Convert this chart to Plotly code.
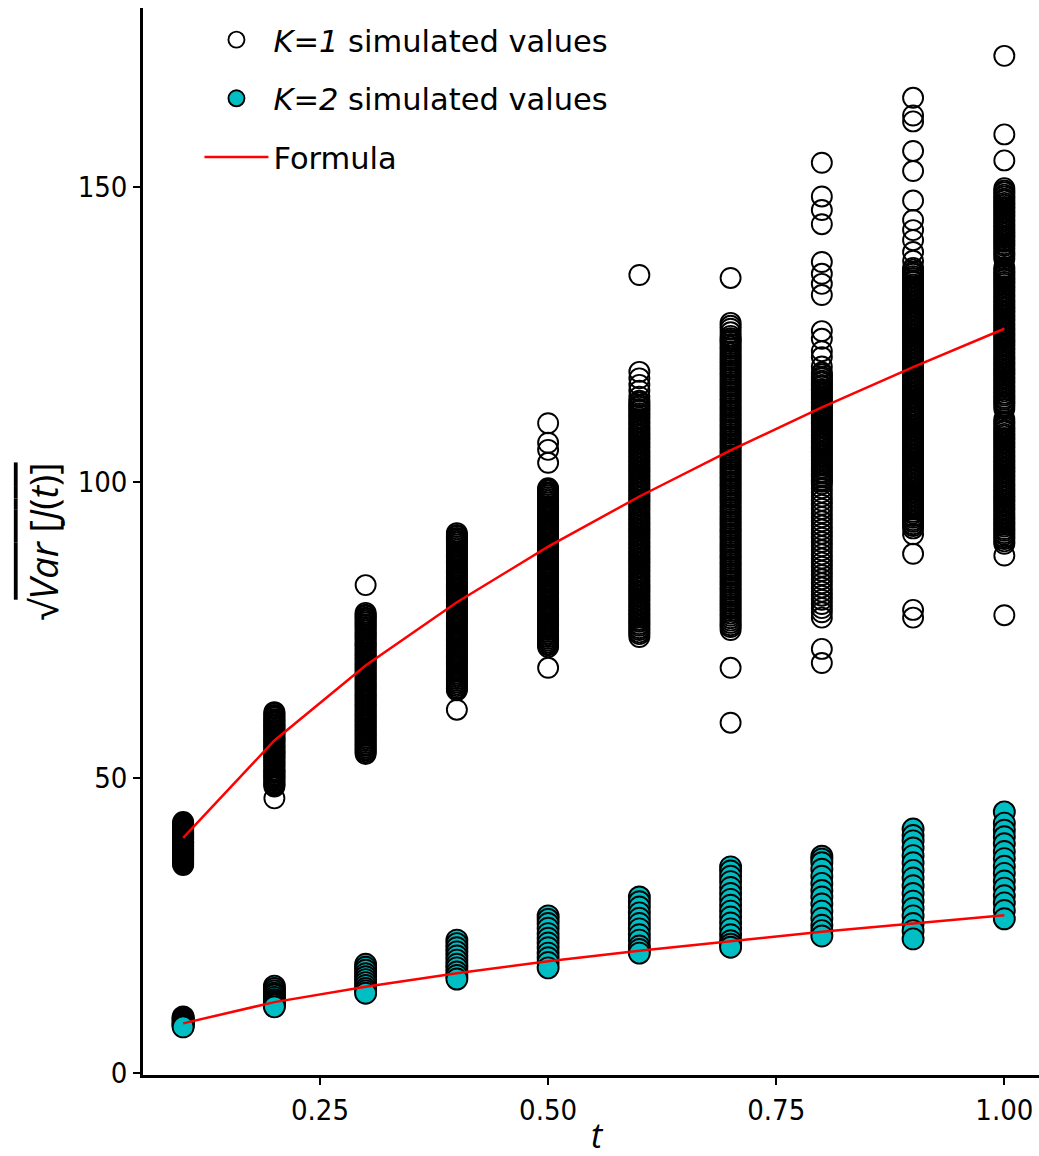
import plotly.graph_objects as go

t_values = [0.1, 0.2, 0.3, 0.4, 0.5, 0.6, 0.7, 0.8, 0.9, 1.0]

k1_sim = {
    0.1: [42.5, 42.1, 41.8, 41.5, 41.2, 40.9, 40.6, 40.4, 40.1, 39.9, 39.6, 39.4, 39.1, 38.9, 38.7, 38.4,
          38.2, 37.9, 37.7, 37.4, 37.1, 36.9, 36.6, 36.3, 36.0, 35.7, 35.4, 35.2],
    0.2: [61.1, 60.6, 60.2, 59.7, 59.3, 58.8, 58.4, 57.9, 57.5, 57.1, 56.6, 56.2, 55.8, 55.3, 54.9, 54.4,
          54.0, 53.5, 53.1, 52.6, 52.2, 51.7, 51.2, 50.8, 50.3, 49.9, 49.4, 48.9, 48.5, 46.5],
    0.3: [82.6, 77.9, 77.4, 76.9, 76.3, 75.8, 75.2, 74.6, 74.1, 73.5, 72.9, 72.4, 71.8, 71.2, 70.7, 70.1,
          69.5, 69.0, 68.4, 67.8, 67.3, 66.7, 66.1, 65.6, 65.0, 64.4, 63.9, 63.3, 62.7, 62.2, 61.6, 61.0,
          60.5, 59.9, 59.3, 58.8, 58.2, 57.6, 57.1, 56.5, 55.9, 55.4, 54.8, 54.3, 54.0],
    0.4: [91.4, 90.9, 90.4, 89.8, 89.2, 88.6, 88.0, 87.4, 86.8, 86.2, 85.6, 85.0, 84.4, 83.8, 83.2, 82.6,
          82.0, 81.4, 80.8, 80.2, 79.6, 79.0, 78.4, 77.8, 77.2, 76.6, 76.0, 75.4, 74.8, 74.2, 73.6, 73.0,
          72.4, 71.8, 71.2, 70.6, 70.0, 69.4, 68.8, 68.2, 67.6, 67.0, 66.4, 65.8, 65.2, 64.8, 61.5],
    0.5: [110.0, 106.7, 105.5, 103.3, 99.0, 98.6, 98.1, 97.5, 96.9, 96.3, 95.7, 95.1, 94.5, 93.9, 93.3,
          92.7, 92.1, 91.5, 90.9, 90.3, 89.7, 89.1, 88.5, 87.9, 87.3, 86.7, 86.1, 85.5, 84.9, 84.3, 83.7,
          83.1, 82.5, 81.9, 81.3, 80.7, 80.1, 79.5, 78.9, 78.3, 77.7, 77.1, 76.5, 75.9, 75.3, 74.7, 74.1,
          73.5, 72.9, 72.4, 72.1, 68.6],
    0.6: [135.1, 118.7, 117.6, 116.5, 115.5, 114.5, 113.8, 113.1, 112.4, 111.7, 111.0, 110.3, 109.6, 108.9,
          108.2, 107.5, 106.8, 106.1, 105.4, 104.7, 104.0, 103.3, 102.6, 101.9, 101.2, 100.5, 99.8, 99.1,
          98.4, 97.7, 97.0, 96.3, 95.6, 94.9, 94.2, 93.5, 92.8, 92.1, 91.4, 90.7, 90.0, 89.3, 88.6, 87.9,
          87.2, 86.5, 85.8, 85.1, 84.4, 83.7, 83.0, 82.3, 81.6, 80.9, 80.2, 79.5, 78.8, 78.1, 77.4, 76.7,
          76.0, 75.3, 74.6, 73.8],
    0.7: [134.6, 127.0, 126.5, 126.0, 125.4, 124.8, 124.1, 123.4, 122.6, 121.8, 121.0, 120.2, 119.4, 118.6,
          117.8, 117.0, 116.2, 115.4, 114.6, 113.8, 113.0, 112.2, 111.4, 110.6, 109.8, 109.0, 108.2, 107.4,
          106.6, 105.8, 105.0, 104.2, 103.4, 102.6, 101.8, 101.0, 100.2, 99.4, 98.6, 97.8, 97.0, 96.2, 95.4,
          94.6, 93.8, 93.0, 92.2, 91.4, 90.6, 89.8, 89.0, 88.2, 87.4, 86.6, 85.8, 85.0, 84.2, 83.4, 82.6,
          81.8, 81.0, 80.2, 79.4, 78.6, 77.8, 77.0, 76.2, 75.5, 75.0, 68.6, 59.3],
    0.8: [154.1, 148.4, 146.1, 143.7, 137.3, 135.3, 133.6, 131.7, 125.6, 124.3, 122.2, 121.2, 119.6, 118.6,
          117.9, 117.2, 116.5, 115.8, 115.1, 114.4, 113.7, 113.0, 112.3, 111.6, 110.9, 110.2, 109.5, 108.8,
          108.1, 107.4, 106.7, 106.0, 105.3, 104.6, 103.9, 103.2, 102.5, 101.8, 101.1, 100.4, 99.7, 99.0,
          98.3, 97.6, 96.9, 96.2, 95.5, 94.8, 94.1, 93.4, 92.7, 92.0, 91.3, 90.6, 89.9, 89.2, 88.5, 87.8,
          87.1, 86.4, 85.7, 85.0, 84.3, 83.6, 82.9, 82.2, 81.5, 80.8, 80.1, 79.4, 78.7, 78.0, 77.1, 71.8, 69.4],
    0.9: [165.1, 162.1, 161.1, 156.1, 152.7, 147.7, 144.4, 142.7, 141.0, 139.0, 137.5, 136.3, 135.6, 134.9,
          134.2, 133.5, 132.8, 132.1, 131.4, 130.7, 130.0, 129.3, 128.6, 127.9, 127.2, 126.5, 125.8, 125.1,
          124.4, 123.7, 123.0, 122.3, 121.6, 120.9, 120.2, 119.5, 118.8, 118.1, 117.4, 116.7, 116.0, 115.3,
          114.6, 113.9, 113.2, 112.5, 111.8, 111.1, 110.4, 109.7, 109.0, 108.3, 107.6, 106.9, 106.2, 105.5,
          104.8, 104.1, 103.4, 102.7, 102.0, 101.3, 100.6, 99.9, 99.2, 98.5, 97.8, 97.1, 96.4, 95.7, 95.0,
          94.3, 93.6, 92.9, 92.2, 91.2, 87.9, 78.4, 77.1],
    1.0: [172.2, 158.9, 154.5, 149.8, 149.1, 148.4, 147.7, 147.0, 146.3, 145.6, 144.9, 144.2, 143.5, 142.8,
          142.1, 141.4, 140.7, 140.0, 139.3, 138.6, 137.8, 136.4, 135.7, 135.0, 134.3, 133.6, 132.9, 132.2,
          131.5, 130.8, 130.1, 129.4, 128.7, 128.0, 127.3, 126.6, 125.9, 125.2, 124.5, 123.8, 123.1, 122.4,
          121.7, 121.0, 120.3, 119.6, 118.9, 118.2, 117.5, 116.8, 116.1, 115.4, 114.7, 114.0, 113.3, 112.4,
          110.7, 110.0, 109.3, 108.6, 107.9, 107.2, 106.5, 105.8, 105.1, 104.4, 103.7, 103.0, 102.3, 101.6,
          100.9, 100.2, 99.5, 98.8, 98.1, 97.4, 96.7, 96.0, 95.3, 94.6, 93.9, 93.2, 92.5, 91.8, 91.1, 90.4,
          89.6, 87.6, 77.5],
}

# further simulated values read from the densely overplotted parts of each column
k1_sim_dense = {
    0.1: [42.3, 41.9, 41.6, 41.3, 41.0, 40.7, 40.5, 40.2, 40.0, 39.7, 39.5, 39.2, 39.0, 38.8, 38.5, 38.3,
          38.0, 37.8, 37.5, 37.2, 37.0, 36.7, 36.4, 36.1, 35.8, 35.5],
    0.2: [60.9, 60.4, 59.9, 59.5, 59.0, 58.6, 58.1, 57.7, 57.3, 56.8, 56.4, 56.0, 55.5, 55.1, 54.6, 54.2,
          53.7, 53.3, 52.8, 52.4, 51.9, 51.4, 51.0, 50.5, 50.1, 49.6, 49.1, 48.7],
    0.3: [77.6, 77.1, 76.6, 76.0, 75.5, 74.9, 74.3, 73.8, 73.2, 72.6, 72.1, 71.5, 70.9, 70.4, 69.8, 69.2,
          68.7, 68.1, 67.5, 67.0, 66.4, 65.8, 65.3, 64.7, 64.1, 63.6, 63.0, 62.4, 61.9, 61.3, 60.7, 60.2,
          59.6, 59.0, 58.5, 57.9, 57.3, 56.8, 56.2, 55.6, 55.1, 54.6],
    0.4: [91.1, 90.6, 90.1, 89.5, 88.9, 88.3, 87.7, 87.1, 86.5, 85.9, 85.3, 84.7, 84.1, 83.5, 82.9, 82.3,
          81.7, 81.1, 80.5, 79.9, 79.3, 78.7, 78.1, 77.5, 76.9, 76.3, 75.7, 75.1, 74.5, 73.9, 73.3, 72.7,
          72.1, 71.5, 70.9, 70.3, 69.7, 69.1, 68.5, 67.9, 67.3, 66.7, 66.1, 65.5, 65.0],
    0.5: [98.8, 98.3, 97.8, 97.2, 96.6, 96.0, 95.4, 94.8, 94.2, 93.6, 93.0, 92.4, 91.8, 91.2, 90.6, 90.0,
          89.4, 88.8, 88.2, 87.6, 87.0, 86.4, 85.8, 85.2, 84.6, 84.0, 83.4, 82.8, 82.2, 81.6, 81.0, 80.4,
          79.8, 79.2, 78.6, 78.0, 77.4, 76.8, 76.2, 75.6, 75.0, 74.4, 73.8, 73.2, 72.6],
    0.6: [113.5, 112.8, 112.1, 111.4, 110.7, 110.0, 109.3, 108.6, 107.9, 107.2, 106.5, 105.8, 105.1, 104.4,
          103.7, 103.0, 102.3, 101.6, 100.9, 100.2, 99.5, 98.8, 98.1, 97.4, 96.7, 96.0, 95.3, 94.6, 93.9,
          93.2, 92.5, 91.8, 91.1, 90.4, 89.7, 89.0, 88.3, 87.6, 86.9, 86.2, 85.5, 84.8, 84.1, 83.4, 82.7,
          82.0, 81.3, 80.6, 79.9, 79.2, 78.5, 77.8, 77.1, 76.4, 75.7, 75.0, 74.3],
    0.7: [124.4, 123.8, 123.0, 122.2, 121.4, 120.6, 119.8, 119.0, 118.2, 117.4, 116.6, 115.8, 115.0, 114.2,
          113.4, 112.6, 111.8, 111.0, 110.2, 109.4, 108.6, 107.8, 107.0, 106.2, 105.4, 104.6, 103.8, 103.0,
          102.2, 101.4, 100.6, 99.8, 99.0, 98.2, 97.4, 96.6, 95.8, 95.0, 94.2, 93.4, 92.6, 91.8, 91.0, 90.2,
          89.4, 88.6, 87.8, 87.0, 86.2, 85.4, 84.6, 83.8, 83.0, 82.2, 81.4, 80.6, 79.8, 79.0, 78.2, 77.4,
          76.6, 75.8],
    0.8: [118.3, 117.6, 116.9, 116.2, 115.5, 114.8, 114.1, 113.4, 112.7, 112.0, 111.3, 110.6, 109.9, 109.2,
          108.5, 107.8, 107.1, 106.4, 105.7, 105.0, 104.3, 103.6, 102.9, 102.2, 101.5, 100.8, 100.1],
    0.9: [136.0, 135.3, 134.6, 133.9, 133.2, 132.5, 131.8, 131.1, 130.4, 129.7, 129.0, 128.3, 127.6, 126.9,
          126.2, 125.5, 124.8, 124.1, 123.4, 122.7, 122.0, 121.3, 120.6, 119.9, 119.2, 118.5, 117.8, 117.1,
          116.4, 115.7, 115.0, 114.3, 113.6, 112.9, 112.2, 111.5, 110.8, 110.1, 109.4, 108.7, 108.0, 107.3,
          106.6, 105.9, 105.2, 104.5, 103.8, 103.1, 102.4, 101.7, 101.0, 100.3, 99.6, 98.9, 98.2, 97.5,
          96.8, 96.1, 95.4, 94.7, 94.0, 93.3, 92.6],
    1.0: [149.4, 148.7, 148.0, 147.3, 146.6, 145.9, 145.2, 144.5, 143.8, 143.1, 142.4, 141.7, 141.0, 140.3,
          139.6, 138.9, 138.2, 136.0, 135.3, 134.6, 133.9, 133.2, 132.5, 131.8, 131.1, 130.4, 129.7, 129.0,
          128.3, 127.6, 126.9, 126.2, 125.5, 124.8, 124.1, 123.4, 122.7, 122.0, 121.3, 120.6, 119.9, 119.2,
          118.5, 117.8, 117.1, 116.4, 115.7, 115.0, 114.3, 113.6, 112.9, 110.3, 109.6, 108.9, 108.2, 107.5,
          106.8, 106.1, 105.4, 104.7, 104.0, 103.3, 102.6, 101.9, 101.2, 100.5, 99.8, 99.1, 98.4, 97.7,
          97.0, 96.3, 95.6, 94.9, 94.2, 93.5, 92.8, 92.1, 91.4, 90.7, 90.0],
}

k2_sim = {
    0.1: [9.5, 9.3, 9.1, 8.9, 8.7, 8.5, 8.4, 8.2, 8.0, 7.8],
    0.2: [14.7, 14.3, 13.9, 13.5, 13.2, 12.8, 12.4, 12.1, 11.8, 11.5, 11.2],
    0.3: [18.4, 17.9, 17.4, 16.8, 16.3, 15.8, 15.3, 14.8, 14.3, 13.9, 13.5],
    0.4: [22.5, 21.9, 21.2, 20.5, 19.8, 19.1, 18.4, 17.8, 17.1, 16.5, 15.9],
    0.5: [26.6, 26.0, 25.3, 24.5, 23.6, 22.8, 22.0, 21.2, 20.3, 19.5, 18.7, 17.8],
    0.6: [29.8, 29.0, 28.1, 27.1, 26.2, 25.3, 24.4, 23.4, 22.5, 21.5, 20.9, 20.3],
    0.7: [34.9, 34.2, 33.3, 32.4, 31.4, 30.4, 29.4, 28.4, 27.4, 26.4, 25.4, 24.4, 23.4, 22.4, 21.8, 21.3],
    0.8: [36.7, 36.2, 35.6, 34.5, 33.3, 32.1, 30.9, 29.8, 28.6, 27.4, 26.2, 25.0, 24.1, 23.2],
    0.9: [41.3, 40.2, 39.3, 38.1, 36.8, 35.6, 34.3, 33.0, 31.7, 30.4, 29.1, 27.9, 26.6, 25.3, 24.1, 22.7],
    1.0: [44.2, 42.3, 41.1, 40.0, 38.8, 37.5, 36.3, 35.0, 33.8, 32.5, 31.3, 30.0, 28.8, 27.5, 26.1],
}

formula_k1 = [39.8, 56.3, 69.0, 79.7, 89.1, 97.6, 105.4, 112.7, 119.5, 126.0]
formula_k2 = [8.4, 12.0, 14.6, 16.9, 18.9, 20.7, 22.3, 23.9, 25.3, 26.7]

x_ticks = [0.25, 0.50, 0.75, 1.00]
x_tick_labels = ["0.25", "0.50", "0.75", "1.00"]
y_ticks = [0, 50, 100, 150]
y_tick_labels = ["0", "50", "100", "150"]


def flatten(*sims):
    xs, ys = [], []
    for t in t_values:
        for sim in sims:
            for v in sim.get(t, []):
                xs.append(t)
                ys.append(v)
    return xs, ys


x1, y1 = flatten(k1_sim, k1_sim_dense)
x2, y2 = flatten(k2_sim)

LEGEND_FONT = "DejaVu Sans, Open Sans, sans-serif"
TICK_FONT = "Liberation Sans Narrow, DejaVu Sans Condensed, Roboto, sans-serif"
TITLE_FONT = "Open Sans, DejaVu Sans, sans-serif"

fig = go.Figure()
fig.add_trace(go.Scatter(
    x=x1, y=y1, mode="markers", name="<i>K=1</i> simulated values", legendgroup="a",
    marker=dict(symbol="circle", size=20, color="rgba(255,255,255,0)",
                line=dict(color="black", width=1.9)),
))
fig.add_trace(go.Scatter(
    x=x2, y=y2, mode="markers", name="<i>K=2</i> simulated values", legendgroup="b",
    marker=dict(symbol="circle", size=21, color="#00BFC4",
                line=dict(color="black", width=1.9)),
))
fig.add_trace(go.Scatter(
    x=t_values, y=formula_k1, mode="lines", name="Formula", legendgroup="f",
    line=dict(color="red", width=2.5),
))
fig.add_trace(go.Scatter(
    x=t_values, y=formula_k2, mode="lines", name="Formula", legendgroup="f", showlegend=False,
    line=dict(color="red", width=2.5),
))

fig.update_layout(
    width=1039, height=1156,
    margin=dict(l=143, r=0, t=8, b=81),
    paper_bgcolor="white", plot_bgcolor="white",
    showlegend=True,
    legend=dict(x=0.063, y=0.995, xanchor="left", yanchor="top",
                font=dict(family=LEGEND_FONT, size=30.5, color="black"),
                bgcolor="rgba(0,0,0,0)", itemwidth=64, traceorder="grouped", tracegroupgap=16),
    font=dict(family=TICK_FONT, color="black"),
    annotations=[dict(
        text="<i>t</i>", xref="paper", yref="paper", x=0.507, y=-0.056,
        xanchor="center", yanchor="middle", showarrow=False,
        font=dict(family=TITLE_FONT, size=34, color="black"),
    )],
)
fig.update_xaxes(
    range=[0.056, 1.038], tickvals=x_ticks, ticktext=x_tick_labels, automargin=False,
    showline=True, linecolor="black", linewidth=2.5, showgrid=False, zeroline=False,
    ticks="outside", ticklen=7, tickwidth=2, tickcolor="black",
    tickfont=dict(family=TICK_FONT, size=29, color="black"),
)
fig.update_yaxes(
    range=[-0.34, 180.3], tickvals=y_ticks, ticktext=y_tick_labels, automargin=False,
    showline=True, linecolor="black", linewidth=2.5, showgrid=False, zeroline=False,
    ticks="outside", ticklen=7, tickwidth=2, tickcolor="black",
    tickfont=dict(family=TICK_FONT, size=29, color="black"),
    title=dict(text="√<span style='text-decoration:overline'><i>Var</i> [<i>J</i>(<i>t</i>)]</span>",
               font=dict(family=TITLE_FONT, size=38, color="black"), standoff=8),
)

fig.write_html("out.html")
